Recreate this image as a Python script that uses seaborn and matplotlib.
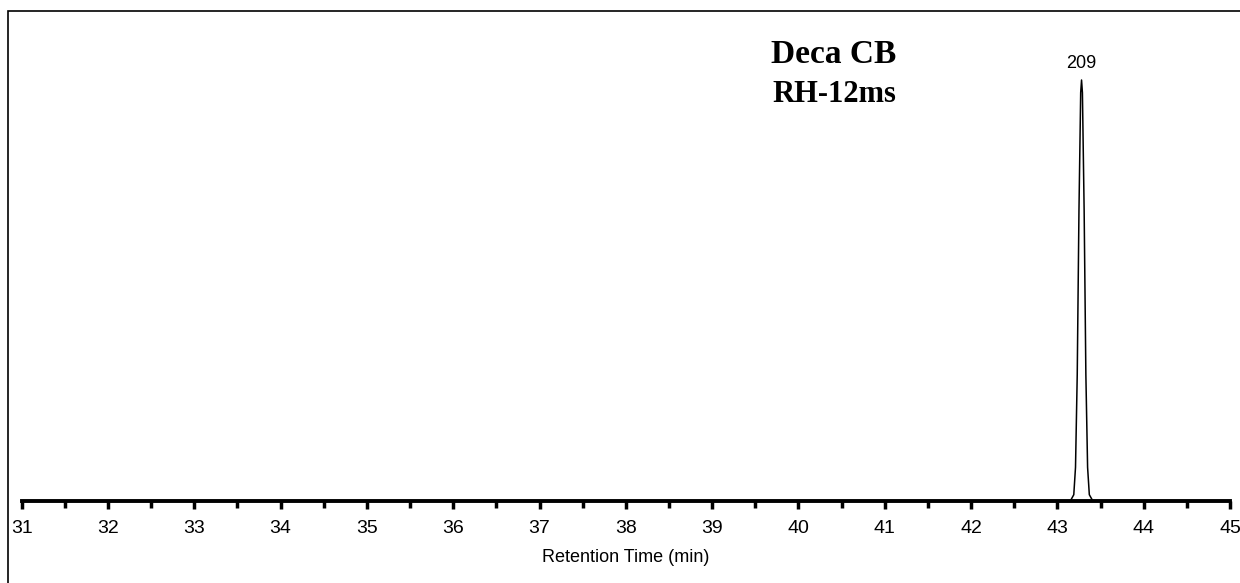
import matplotlib
matplotlib.use("Agg")
import matplotlib.pyplot as plt
from matplotlib.ticker import MultipleLocator
from matplotlib.patches import Rectangle
import seaborn as sns
import pandas as pd

# Chromatogram trace: retention time (min) and relative detector response
retention_time = [31.00, 43.10, 43.15, 43.19, 43.21, 43.23, 43.25, 43.27, 43.28,
                  43.29, 43.31, 43.33, 43.35, 43.37, 43.40, 43.42, 43.50, 45.00]
response = [0.0, 0.0, 0.0, 1.5, 8.0, 30.0, 69.0, 97.0, 100.0,
            97.0, 69.0, 30.0, 8.0, 1.5, 0.4, 0.0, 0.0, 0.0]

peak_label = "209"
peak_time = 43.28
peak_height = 100.0

title_line1 = "Deca CB"
title_line2 = "RH-12ms"
x_label = "Retention Time (min)"
x_ticks = list(range(31, 46))

sns.set_style("white")
plt.rcParams["font.family"] = ["Liberation Sans", "DejaVu Sans"]
plt.rcParams["text.color"] = "black"
plt.rcParams["axes.labelcolor"] = "black"
plt.rcParams["xtick.color"] = "black"
plt.rcParams["xtick.labelcolor"] = "black"

fig = plt.figure(figsize=(12.4, 5.83), dpi=100)
W, H = 1240, 583
ax_left, ax_right = 21.7 / W, 1230 / W
ax_bottom = (H - 501) / H
ax_top = (H - 37.9) / H
ax = fig.add_axes([ax_left, ax_bottom, ax_right - ax_left, ax_top - ax_bottom])

df = pd.DataFrame({"rt": retention_time, "resp": response})
sns.lineplot(data=df, x="rt", y="resp", ax=ax, color="black", linewidth=1.1,
             estimator=None, sort=False)

ax.set_xlim(31, 45)
ax.set_ylim(0, 110)
ax.set_xticks(x_ticks)
ax.set_xticklabels([str(t) for t in x_ticks])
ax.xaxis.set_minor_locator(MultipleLocator(0.5))
ax.tick_params(axis="x", which="major", direction="out", length=6, width=2.5,
               pad=8, labelsize=14, color="black", labelcolor="black", bottom=True)
ax.tick_params(axis="x", which="minor", direction="out", length=5, width=2.5,
               color="black", bottom=True)
ax.set_yticks([])
ax.set_ylabel("")
ax.set_xlabel(x_label, fontsize=13, labelpad=8, color="black")
for side in ("left", "right", "top"):
    ax.spines[side].set_visible(False)
ax.spines["bottom"].set_linewidth(2.8)
ax.spines["bottom"].set_color("black")
ax.patch.set_alpha(0)

# Peak identification label
ax.annotate(peak_label, xy=(peak_time, peak_height), xytext=(0, 6),
            textcoords="offset points", ha="center", va="bottom", fontsize=13,
            color="black")

# Title block
fig.text(834 / W, 1 - 63 / H, title_line1, ha="center", va="baseline",
         fontsize=24, fontweight="bold", family="Liberation Serif", color="black")
fig.text(834 / W, 1 - 102 / H, title_line2, ha="center", va="baseline",
         fontsize=22, fontweight="bold", family="Liberation Serif", color="black")

# Outer frame
fig.patches.append(Rectangle((8 / W, -0.1), 1.2, (H - 11) / H + 0.1,
                             transform=fig.transFigure, fill=False,
                             edgecolor="black", linewidth=1.2))

fig.savefig("out.png", dpi=100)
